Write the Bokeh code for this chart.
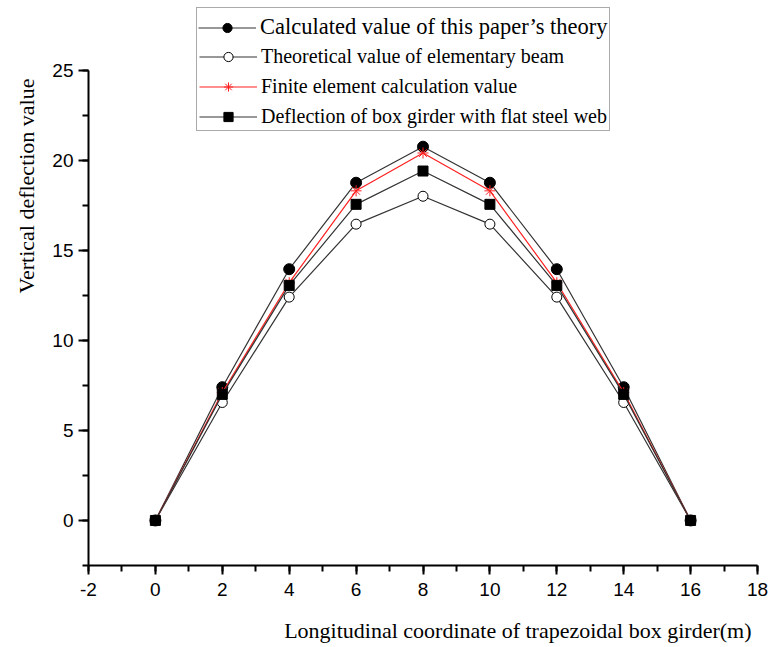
from bokeh.plotting import figure
from bokeh.models import Legend, LegendItem, Title, Range1d, SingleIntervalTicker
from bokeh.embed import file_html
from bokeh.resources import INLINE

# ---- data ----
x_pos = [0, 2, 4, 6, 8, 10, 12, 14, 16]
calc_theory = [0, 7.4, 13.95, 18.75, 20.75, 18.75, 13.95, 7.4, 0]
elementary_beam = [0, 6.55, 12.4, 16.45, 18.0, 16.45, 12.4, 6.55, 0]
finite_element = [0, 7.1, 13.2, 18.3, 20.4, 18.3, 13.2, 7.1, 0]
flat_web = [0, 7.0, 13.05, 17.55, 19.4, 17.55, 13.05, 7.0, 0]

labels = [
    "Calculated value of this paper\u2019s theory",
    "Theoretical value of elementary beam",
    "Finite element calculation value",
    "Deflection of box girder with flat steel web",
]
x_title = "Longitudinal coordinate of trapezoidal box girder(m)"
y_title = "Vertical deflection value"

SERIF = "Liberation Serif"
SANS = "Liberation Sans"

p = figure(width=768, height=647, x_range=Range1d(-2, 18), y_range=Range1d(-2.5, 28.7),
           output_backend="svg", toolbar_location=None,
           min_border_left=88, min_border_right=11, min_border_top=3, min_border_bottom=82)
p.grid.visible = False
p.outline_line_color = None
p.background_fill_color = "white"
p.border_fill_color = "white"

p.xaxis.ticker = SingleIntervalTicker(interval=2, num_minor_ticks=2)
p.yaxis.ticker = SingleIntervalTicker(interval=5, num_minor_ticks=2)
p.xaxis.major_label_overrides = {-2: "-2"}
p.yaxis.bounds = (-2.5, 25)
for ax in (p.xaxis[0], p.yaxis[0]):
    ax.axis_line_width = 2
    ax.axis_line_color = "black"
    ax.major_tick_line_width = 2
    ax.minor_tick_line_width = 2
    ax.major_tick_line_color = "black"
    ax.minor_tick_line_color = "black"
    ax.major_tick_in = 0
    ax.minor_tick_in = 0
    ax.minor_tick_out = 6
    ax.major_label_text_font = SANS
    ax.major_label_text_font_size = "19px"
    ax.major_label_text_color = "black"
p.xaxis.major_tick_out = 9
p.yaxis.major_tick_out = 10
p.xaxis.major_label_standoff = 8
p.yaxis.major_label_standoff = 5
# blank spacer label under the x tick labels, so the title below sits lower
p.xaxis.axis_label = "\u00a0"
p.xaxis.axis_label_text_font_size = "12px"
p.xaxis.axis_label_standoff = 0

line_col = "#333333"
r1l = p.line(x_pos, calc_theory, line_color=line_col, line_width=1.2)
r1m = p.scatter(x_pos, calc_theory, marker="circle", size=11, fill_color="black", line_color="black")
r2l = p.line(x_pos, elementary_beam, line_color=line_col, line_width=1.2)
r2m = p.scatter(x_pos, elementary_beam, marker="circle", size=10, fill_color="white", line_color="black", line_width=1)
r3l = p.line(x_pos, finite_element, line_color="#ff2020", line_width=1.2)
r3m = p.scatter(x_pos, finite_element, marker="asterisk", size=11, line_color="#ff2020", line_width=1)
r4l = p.line(x_pos, flat_web, line_color=line_col, line_width=1.2)
r4m = p.scatter(x_pos, flat_web, marker="square", size=10, fill_color="black", line_color="black")

legend_b = Legend(
    items=[LegendItem(label=labels[1], renderers=[r2l, r2m]),
           LegendItem(label=labels[2], renderers=[r3l, r3m]),
           LegendItem(label=labels[3], renderers=[r4l, r4m])],
    location=(108, 434), orientation="vertical",
    title="\u00a0", title_text_font=SERIF, title_text_font_size="22.5px",
    title_text_font_style="normal", title_standoff=9,
    label_text_font=SERIF, label_text_font_size="20px", label_text_color="black",
    glyph_width=58, glyph_height=23, label_height=23, spacing=7, padding=2, margin=0,
    label_standoff=4, border_line_color="#555555", border_line_width=1.5,
    background_fill_color="white", background_fill_alpha=1,
)
p.add_layout(legend_b)

legend_a = Legend(
    items=[LegendItem(label=labels[0], renderers=[r1l, r1m])],
    location=(108, 523), orientation="vertical",
    label_text_font=SERIF, label_text_font_size="22.5px", label_text_color="black",
    glyph_width=58, glyph_height=23, label_height=23, spacing=0, padding=2, margin=0,
    label_standoff=4, border_line_alpha=0, background_fill_alpha=0,
)
p.add_layout(legend_a)

ylab = Title(text=y_title, align="right", offset=75, standoff=18, vertical_align="top",
             text_font=SERIF, text_font_size="22px", text_font_style="normal", text_color="black")
p.add_layout(ylab, "left")
xlab = Title(text=x_title, align="right", offset=6, standoff=0,
             text_font=SERIF, text_font_size="22px", text_font_style="normal", text_color="black")
p.add_layout(xlab, "below")

open("out.html", "w").write(file_html(p, INLINE))
